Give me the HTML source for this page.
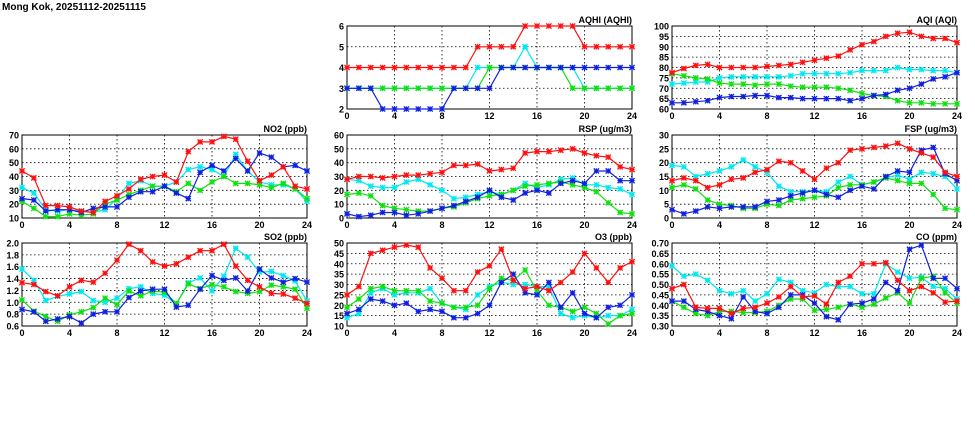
<!DOCTYPE html>
<html><head><meta charset="utf-8"><style>
body{margin:0;background:#fff;width:975px;height:447px;overflow:hidden}
svg{display:block}
text{font-family:"Liberation Sans",sans-serif;font-weight:bold;fill:#000}
</style></head><body>
<svg id="chart" width="975" height="447" viewBox="0 0 975 447">
<text x="2" y="10" font-size="10">Mong Kok, 20251112-20251115</text>
</svg>
<script>
const hours=[0,1,2,3,4,5,6,7,8,9,10,11,12,13,14,15,16,17,18,19,20,21,22,23,24];
const seriesColors=["#ff1010","#00e8f0","#10e010","#1020e0"];
const seriesNames=["red","cyan","green","blue"];
const aqhiRed=[4,4,4,4,4,4,4,4,4,4,4,5,5,5,5,6,6,6,6,6,5,5,5,5,5];
const aqhiCyan=[3,3,3,3,3,3,3,3,3,3,3,4,4,4,4,5,4,4,4,4,3,3,3,3,3];
const aqhiGreen=[3,3,3,3,3,3,3,3,3,3,3,3,4,4,4,4,4,4,4,3,3,3,3,3,3];
const aqhiBlue=[3,3,3,2,2,2,2,2,2,3,3,3,3,4,4,4,4,4,4,4,4,4,4,4,4];
const aqiRed=[77.5,79.5,81,81.5,80,80,80,80,80.5,81,81.5,82.5,83.5,84.5,85.5,88.5,91,92.5,95,96.5,97,95,94,94,92];
const aqiCyan=[72,72.5,73,73,75,75.5,75.5,75.5,75.5,75.5,76,77,77,77,77,77.5,78.5,78.5,78.5,80,79,79,78.5,78.5,77.5];
const aqiGreen=[77,76,75,74.5,72.5,72,72,71.5,72,72,71,70.5,70.5,70.5,70,69,67.5,66.5,66,64,63,63,62.5,62.5,62.5];
const aqiBlue=[63,63,63.5,64,65.5,66,66,66.5,66.5,65.5,65.5,65,65,65,65,64,65,66.5,67,69,70,72,74.5,75.5,77.5];
const no2Red=[44,39,19,19,18,15,14,22,26,31,38,40,41,36,58,65,65,69,67,51,37,41,47,33,31];
const no2Cyan=[32,28,16,15,16,15,14,16,24,35,37,33,33,36,45,47,45,40,56,44,36,34,34,31,22];
const no2Green=[22,17,11,11,13,12,13,20,23,27,30,33,33,29,35,30,36,40,35,35,34,32,35,31,24];
const no2Blue=[24,23,15,16,16,14,17,18,18,25,29,29,33,28,24,43,48,44,53,44,57,54,47,48,44];
const rspRed=[28,30,30,29,30,31,31,32,33,38,38,39,34,35,36,47,48,48,49,50,47,45,44,37,35];
const rspCyan=[28,27,23,22,22,26,28,24,20,14,15,17,19,17,20,25,22,24,28,29,24,24,22,21,17];
const rspGreen=[17,18,16,9,7,6,5,5,7,8,11,14,16,17,20,23,24,25,26,24,22,19,11,4,3];
const rspBlue=[3,1,2,4,4,2,3,5,7,9,12,15,20,15,13,18,20,18,25,27,25,34,34,27,27];
const fspRed=[13.5,14.5,13.5,11,12,14,14.5,16.5,17.5,20.5,20,17,14,18,20,24.5,25,25.5,26,27,25,23.5,22,16.5,15];
const fspCyan=[19,18.5,15,16,17,18.5,21,18.5,16.5,11.5,9.5,9.5,10,9.5,13,15,12,13,14.5,15.5,14,16.5,16,15,10.5];
const fspGreen=[11,12,10.5,6.5,5,4.5,3.5,3.5,5,4.5,6.5,7,7.5,8,11,12,12,13,14.5,13.5,12.5,12.5,8.5,3.5,3];
const fspBlue=[3,1.5,2.5,4,3.5,4,4,4,6,6.5,8,9,10,8.5,7.5,10,11.5,10.5,15,17,16.5,24.5,25.5,16,13.5];
const so2Red=[1.33,1.30,1.18,1.11,1.26,1.37,1.34,1.49,1.71,1.98,1.87,1.68,1.61,1.65,1.76,1.87,1.87,1.98,1.61,1.37,1.26,1.15,1.14,1.07,0.98];
const so2Cyan=[1.56,1.37,1.03,1.10,1.14,1.18,1.03,1.00,1.07,1.23,1.26,1.15,1.12,0.97,1.33,1.41,1.19,1.44,1.91,1.76,1.51,1.52,1.45,1.36,1.02];
const so2Green=[1.04,0.85,0.76,0.68,0.79,0.84,0.91,1.07,0.96,1.19,1.11,1.19,1.17,0.98,1.31,1.23,1.30,1.26,1.18,1.15,1.18,1.29,1.26,1.22,0.90];
const so2Blue=[0.88,0.84,0.68,0.72,0.76,0.65,0.80,0.84,0.84,1.08,1.19,1.22,1.22,0.92,0.95,1.22,1.45,1.37,1.41,1.19,1.56,1.41,1.34,1.40,1.34];
const o3Red=[25,29,45,46.5,48,49,48,38,33,27,27,36,39,47,32,28,29,27,31,36,45,38,31,38,41];
const o3Cyan=[14,16,26,28,25,26,26,28,21,19,18,25,29,31,30,30,29,29,16,14,15,14,15,15,18];
const o3Green=[19,23,28,29,27,27,27,22,21,19,19,20,28,33,32,37,27,20,19,17,19,16,11,15,16];
const o3Blue=[16,18,23,22,20,21,17,18,17,14,14,16,20,31,35,26,25,31,19,26,16,14,19,20,25];
const coRed=[.48,.50,.39,.385,.385,.36,.385,.39,.41,.44,.49,.44,.445,.405,.51,.54,.60,.60,.605,.52,.47,.49,.46,.415,.42];
const coCyan=[.59,.54,.55,.52,.47,.455,.47,.42,.455,.525,.51,.47,.46,.50,.49,.49,.455,.455,.60,.56,.53,.535,.49,.48,.43];
const coGreen=[.42,.39,.36,.35,.37,.37,.365,.365,.37,.40,.43,.43,.375,.38,.39,.405,.39,.405,.435,.46,.41,.53,.54,.46,.41];
const coBlue=[.42,.42,.38,.37,.35,.335,.44,.37,.36,.39,.45,.45,.41,.345,.33,.405,.41,.43,.51,.47,.67,.69,.53,.53,.48];
const xTicks=[0,4,8,12,16,20,24];

const panels=[
 {id:"aqhi",title:"AQHI (AQHI)",col:1,row:0,min:2,max:6,step:1,dec:0,s:[aqhiRed,aqhiCyan,aqhiGreen,aqhiBlue]},
 {id:"aqi",title:"AQI (AQI)",col:2,row:0,min:60,max:100,step:5,dec:0,s:[aqiRed,aqiCyan,aqiGreen,aqiBlue]},
 {id:"no2",title:"NO2 (ppb)",col:0,row:1,min:10,max:70,step:10,dec:0,s:[no2Red,no2Cyan,no2Green,no2Blue]},
 {id:"rsp",title:"RSP (ug/m3)",col:1,row:1,min:0,max:60,step:10,dec:0,s:[rspRed,rspCyan,rspGreen,rspBlue]},
 {id:"fsp",title:"FSP (ug/m3)",col:2,row:1,min:0,max:30,step:5,dec:0,s:[fspRed,fspCyan,fspGreen,fspBlue]},
 {id:"so2",title:"SO2 (ppb)",col:0,row:2,min:0.6,max:2.0,step:0.2,dec:1,s:[so2Red,so2Cyan,so2Green,so2Blue]},
 {id:"o3",title:"O3 (ppb)",col:1,row:2,min:10,max:50,step:5,dec:0,s:[o3Red,o3Cyan,o3Green,o3Blue]},
 {id:"co",title:"CO (ppm)",col:2,row:2,min:0.3,max:0.7,step:0.05,dec:2,s:[coRed,coCyan,coGreen,coBlue]}
];
const colX=[22,347,672], rowY=[26,135,243], PW=285, PH=83;
const NS="http://www.w3.org/2000/svg";
const svg=document.getElementById("chart");
function mk(tag,attrs,parent){const e=document.createElementNS(NS,tag);for(const k in attrs)e.setAttribute(k,attrs[k]);(parent||svg).appendChild(e);return e;}
panels.forEach(p=>{
  const x0=colX[p.col], y0=rowY[p.row];
  const g=mk("g",{});
  
  
  const xs=h=>x0+h/24*PW;
  const ys=v=>y0+PH-(v-p.min)/(p.max-p.min)*PH;
  const n=Math.round((p.max-p.min)/p.step);
  for(let i=0;i<=n;i++){
    const v=p.min+i*p.step, y=ys(v);
    if(i>0&&i<n){const l=mk("line",{x1:x0,x2:x0+PW,y1:y,y2:y,stroke:"#000","stroke-width":0.8,"stroke-dasharray":"1.5,2.5"},g);
      }
    const t=mk("text",{x:x0-3,y:y+3.5,"font-size":9,"text-anchor":"end"},g);
    t.textContent=v.toFixed(p.dec);
    
    
  }
  xTicks.forEach(h=>{
    const x=xs(h);
    if(h>0&&h<24){const l=mk("line",{x1:x,x2:x,y1:y0,y2:y0+PH,stroke:"#000","stroke-width":0.8,"stroke-dasharray":"1.5,2.5"},g);
      }
    const t=mk("text",{x:x,y:y0+PH+10,"font-size":9,"text-anchor":"middle"},g);
    t.textContent=h;
    
    
  });
  const fr=mk("rect",{x:x0,y:y0,width:PW,height:PH,fill:"none",stroke:"#000","stroke-width":1},g);
  
  
  const tt=mk("text",{x:x0+PW,y:y0-3,"font-size":9,"text-anchor":"end"},g);
  tt.textContent=p.title;
  
  
  [1,2,3,0].forEach(si=>{
    const data=p.s[si], c=seriesColors[si];
    const sg=mk("g",{},g);
    
    
    const pts=data.map((v,i)=>xs(hours[i]).toFixed(1)+","+ys(v).toFixed(1)).join(" ");
    const pl=mk("polyline",{points:pts,fill:"none",stroke:c,"stroke-width":1.2},sg);
    
    
    data.forEach((v,i)=>{
      const x=xs(hours[i]), y=ys(v), r=2.6;
      const m=mk("path",{d:`M${x-r},${y-r}L${x+r},${y+r}M${x-r},${y+r}L${x+r},${y-r}M${x-r},${y}L${x+r},${y}M${x},${y-r}L${x},${y+r}`,stroke:c,"stroke-width":1.3,fill:"none"},sg);
      
      
    });
  });
});
</script>
</body></html>
